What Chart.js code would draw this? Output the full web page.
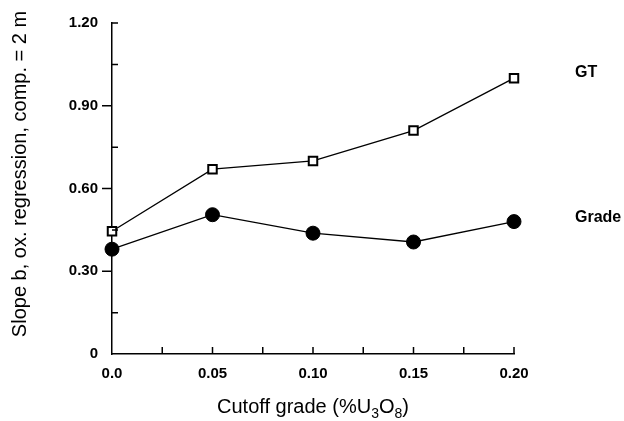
<!DOCTYPE html>
<html>
<head>
<meta charset="utf-8">
<script src="https://cdn.jsdelivr.net/npm/chart.js@4/dist/chart.umd.min.js"></script>
<style>
  html, body { margin: 0; padding: 0; background: #fff; }
  #chart { display: block; }
</style>
</head>
<body>
<canvas id="chart" width="624" height="421"></canvas>
<script>
const cutoffs = [0.0, 0.05, 0.10, 0.15, 0.20];
const gtValues = [0.445, 0.67, 0.70, 0.81, 1.00];
const gradeValues = [0.38, 0.505, 0.438, 0.406, 0.48];
const xTickLabels = ['0.0', '0.05', '0.10', '0.15', '0.20'];
const yTickLabels = ['0', '0.30', '0.60', '0.90', '1.20'];
const xMinorTicks = [0.025, 0.075, 0.125, 0.175];
const yMinorTicks = [0.15, 0.45, 0.75, 1.05];

const FONT = "'Liberation Sans', Arial, Helvetica, sans-serif";

const toPoints = (vals) => cutoffs.map((x, i) => ({ x: x, y: vals[i] }));

// axis ticks, titles and series labels
const decorations = {
  id: 'decorations',
  afterDraw(chart) {
    const { ctx, chartArea: a, scales: { x, y } } = chart;
    ctx.save();
    ctx.strokeStyle = '#000';
    ctx.lineWidth = 1.5;
    ctx.beginPath();
    // y major ticks point out, top one and minor ones point in
    [0.3, 0.6, 0.9].forEach(v => {
      const py = y.getPixelForValue(v);
      ctx.moveTo(a.left - 10, py); ctx.lineTo(a.left, py);
    });
    [1.2].concat(yMinorTicks).forEach(v => {
      const py = y.getPixelForValue(v);
      ctx.moveTo(a.left, py); ctx.lineTo(a.left + 6, py);
    });
    // x ticks all point up
    cutoffs.slice(1).concat(xMinorTicks).forEach(v => {
      const px = x.getPixelForValue(v);
      ctx.moveTo(px, a.bottom); ctx.lineTo(px, a.bottom - 7);
    });
    ctx.stroke();

    ctx.fillStyle = '#000';
    // y title
    ctx.save();
    ctx.translate(20, 174);
    ctx.rotate(-Math.PI / 2);
    ctx.font = '20px ' + FONT;
    ctx.textAlign = 'center';
    ctx.textBaseline = 'middle';
    ctx.fillText('Slope b, ox. regression, comp. = 2 m', 0, 0);
    ctx.restore();

    // x title with subscripts
    const big = '20px ' + FONT, small = '14px ' + FONT;
    const parts = [['Cutoff grade (%U', big, 0], ['3', small, 5], ['O', big, 0], ['8', small, 5], [')', big, 0]];
    let total = 0;
    parts.forEach(p => { ctx.font = p[1]; total += ctx.measureText(p[0]).width; });
    let cx = 313 - total / 2;
    const base = 413;
    ctx.textAlign = 'left';
    ctx.textBaseline = 'alphabetic';
    parts.forEach(p => {
      ctx.font = p[1];
      ctx.fillText(p[0], cx, base + p[2]);
      cx += ctx.measureText(p[0]).width;
    });

    // series labels beside the last points
    ctx.font = 'bold 16px ' + FONT;
    ctx.textBaseline = 'middle';
    const last = cutoffs.length - 1;
    ctx.fillText('GT', 575, y.getPixelForValue(gtValues[last]) - 6);
    ctx.fillText('Grade', 575, y.getPixelForValue(gradeValues[last]) - 4);
    ctx.restore();
  }
};

new Chart(document.getElementById('chart'), {
  type: 'line',
  data: {
    datasets: [
      {
        label: 'GT',
        data: toPoints(gtValues),
        borderColor: '#000',
        borderWidth: 1.3,
        pointStyle: 'rect',
        pointRadius: 6,
        pointBackgroundColor: '#fff',
        pointBorderColor: '#000',
        pointBorderWidth: 2
      },
      {
        label: 'Grade',
        data: toPoints(gradeValues),
        borderColor: '#000',
        borderWidth: 1.3,
        pointStyle: 'circle',
        pointRadius: 7,
        pointBackgroundColor: '#000',
        pointBorderColor: '#000',
        pointBorderWidth: 1
      }
    ]
  },
  options: {
    responsive: false,
    animation: false,
    clip: false,
    layout: { padding: { left: 0, right: 110, top: 17, bottom: 0 } },
    plugins: {
      legend: { display: false },
      tooltip: { enabled: false }
    },
    scales: {
      x: {
        type: 'linear',
        min: 0,
        max: 0.2,
        afterBuildTicks(scale) { scale.ticks = cutoffs.map(v => ({ value: v })); },
        afterFit(scale) { scale.height = 67; },
        grid: { display: true, drawOnChartArea: false, drawTicks: false },
        border: { display: true, color: '#000', width: 1.5 },
        ticks: {
          color: '#000',
          padding: 11,
          maxRotation: 0,
          font: { family: FONT, size: 15, weight: 'bold' },
          callback: (v, i) => xTickLabels[i]
        }
      },
      y: {
        min: 0,
        max: 1.2,
        afterBuildTicks(scale) { scale.ticks = [0, 0.3, 0.6, 0.9, 1.2].map(v => ({ value: v })); },
        afterFit(scale) { scale.width = 112; },
        grid: { display: true, drawOnChartArea: false, drawTicks: false },
        border: { display: true, color: '#000', width: 1.5 },
        ticks: {
          color: '#000',
          padding: 14,
          font: { family: FONT, size: 15, weight: 'bold' },
          callback: (v, i) => yTickLabels[i]
        }
      }
    }
  },
  plugins: [decorations]
});
</script>
</body>
</html>
